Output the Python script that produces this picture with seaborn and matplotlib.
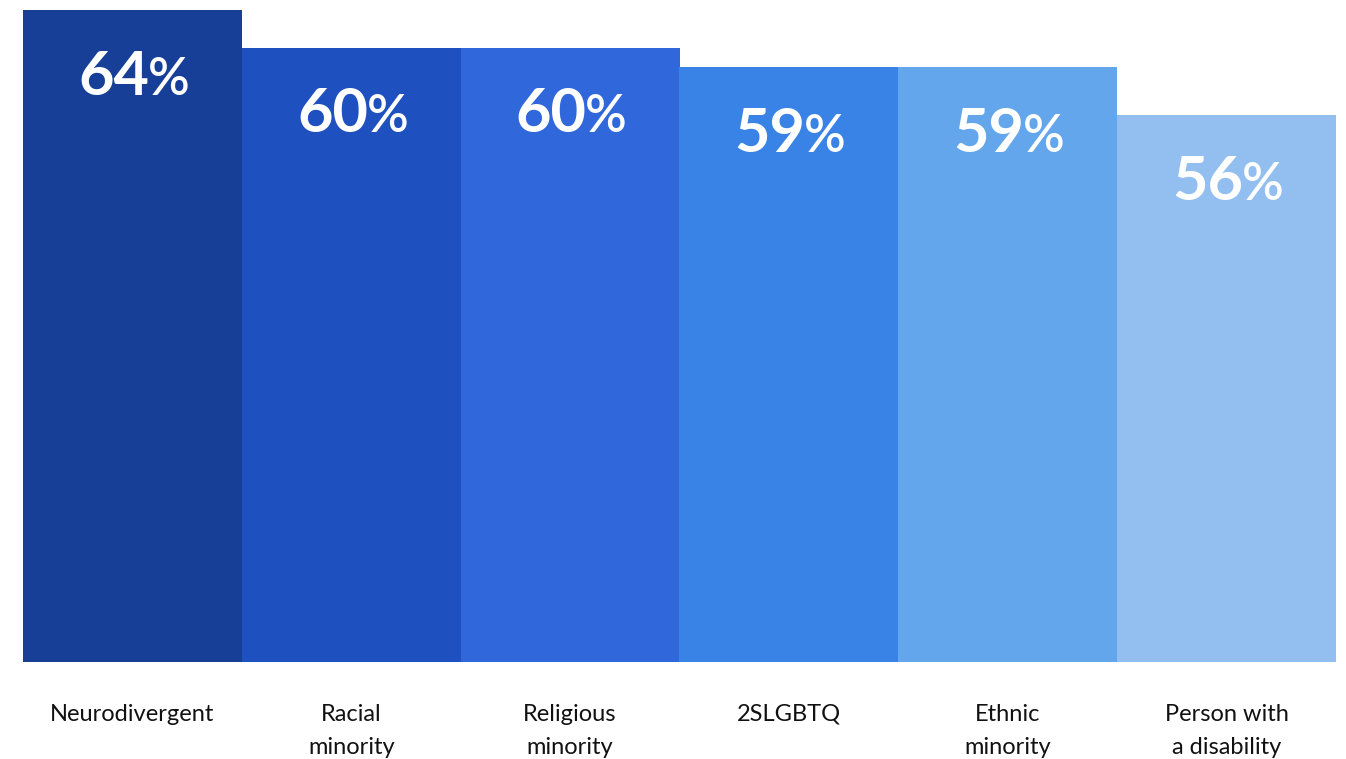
import matplotlib
matplotlib.use("Agg")
import pandas as pd
import seaborn as sns
from matplotlib import pyplot as plt

categories = ["Neurodivergent", "Racial\nminority", "Religious\nminority",
              "2SLGBTQ", "Ethnic\nminority", "Person with\na disability"]
labels = [64, 60, 60, 59, 59, 56]
# bar lengths as drawn in the picture (axis from 0)
heights = [64.0, 60.3, 60.3, 58.4, 58.4, 53.7]
colors = ["#183f97", "#1f50bf", "#3068dc", "#3a83e6", "#64a6eb", "#93bff0"]

df = pd.DataFrame({"group": categories, "value": heights, "label": labels})

sns.set_style("white")
plt.rcParams["font.family"] = ["Lato", "DejaVu Sans"]

fig = plt.figure(figsize=(13.46, 7.59), dpi=100)
ax = fig.add_axes([23 / 1346, 97 / 759, 1313 / 1346, 652 / 759])

sns.barplot(data=df, x="group", y="value", hue="group", palette=colors,
            width=1, saturation=1, legend=False, linewidth=0, ax=ax)

for i, row in df.iterrows():
    ax.annotate(f"{row['label']}", (i, row["value"]), xytext=(12, -61),
                textcoords="offset points", ha="right", va="baseline",
                fontsize=44, fontweight="bold", color="white")
    ax.annotate("%", (i, row["value"]), xytext=(11, -61),
                textcoords="offset points", ha="left", va="baseline",
                fontsize=37, fontweight="semibold", color="white")

ax.set_xlim(-0.5, 5.5)
ax.set_ylim(0, 64)
ax.set_xlabel("")
ax.set_ylabel("")
ax.set_yticks([])
ax.tick_params(axis="x", length=0, pad=30, labelsize=17, labelcolor="#111111")
for t in ax.get_xticklabels():
    t.set_linespacing(1.75)
sns.despine(ax=ax, left=True, bottom=True)

plt.savefig("out.png", dpi=100)
